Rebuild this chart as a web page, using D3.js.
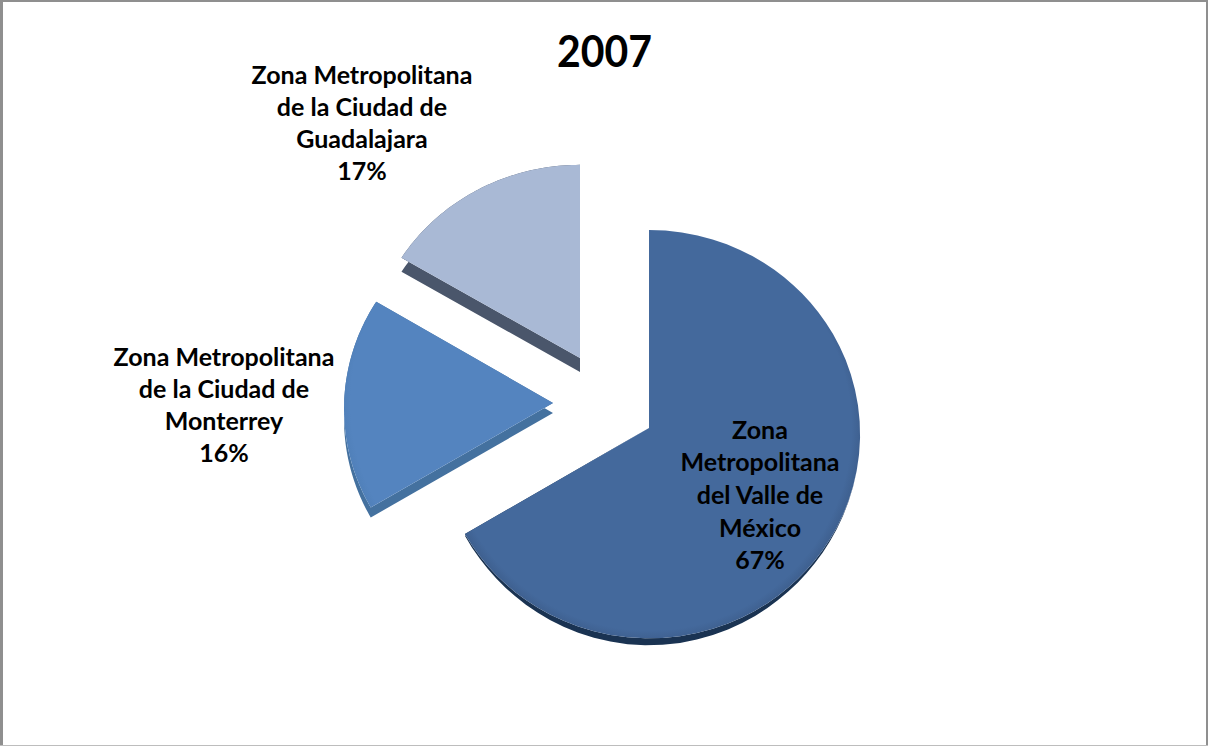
<!DOCTYPE html>
<html lang="es">
<head>
<meta charset="utf-8">
<script src="https://cdn.jsdelivr.net/npm/d3@7/dist/d3.min.js"></script>
<style>
html,body{margin:0;padding:0;background:#fff}
svg{display:block}
text{font-family:Lato,"Open Sans",sans-serif;font-weight:700;fill:#000;text-anchor:middle}
</style>
</head>
<body>
<svg id="chart" width="1208" height="746"></svg>
<script>
// Chart content
const chartTitle = "2007";
const zones = ["Zona Metropolitana del Valle de México", "Zona Metropolitana de la Ciudad de Monterrey", "Zona Metropolitana de la Ciudad de Guadalajara"];
const shares = [67, 16, 17];
const zoneLines = [
  ["Zona", "Metropolitana", "del Valle de", "México"],
  ["Zona Metropolitana", "de la Ciudad de", "Monterrey"],
  ["Zona Metropolitana", "de la Ciudad de", "Guadalajara"]
];

// Slice appearance and placement
const faceColors = ["#44699c", "#5484bf", "#a9b9d5"];
const rimColors = ["#3f6191", "#5080b9", "#a3b3cf"];
const sideColors = ["#1a3352", "#44719f", "#4a566b"];
const apexes = [[649, 428], [553, 403], [580, 358]];
const depths = [6.5, 10, 14];
const taperedSide = [true, false, false];
const widthScales = [1, 0.99, 1];
const heightScales = [1, 0.985, 0.975];
const labelCenters = [[760, 430], [224, 357], [362, 75]];
const labelLeading = [32.6, 32, 32];

const radius = 211;
const flatten = 0.967;   // vertical squash of the tilted disc
const tilt = 0.03;       // near edge of the disc reads a little larger
const warp = 2.2 * Math.PI / 180; // oblique view pulls the side angles toward the horizontal

const svg = d3.select("#chart");
const defs = svg.append("defs");

// Frame around the chart area
const frame = svg.append("g");
frame.append("rect").attr("x", 0).attr("y", 0).attr("width", 1208).attr("height", 746).attr("fill", "#fff");
frame.append("line").attr("x1", 0).attr("x2", 1208).attr("y1", 1).attr("y2", 1).attr("stroke", "#8f8f8f").attr("stroke-width", 2);
frame.append("line").attr("x1", 1.5).attr("x2", 1.5).attr("y1", 0).attr("y2", 746).attr("stroke", "#8f8f8f").attr("stroke-width", 3);
frame.append("line").attr("x1", 1207).attr("x2", 1207).attr("y1", 0).attr("y2", 746).attr("stroke", "#8f8f8f").attr("stroke-width", 2);
frame.append("line").attr("x1", 0).attr("x2", 1208).attr("y1", 745.5).attr("y2", 745.5).attr("stroke", "#bdbdbd").attr("stroke-width", 1);

const arcs = d3.pie().sort(null).value(d => d).startAngle(0).endAngle(2 * Math.PI)(shares);

// Polar position on the tilted disc, relative to the slice apex
function project(angle, i) {
  const t = angle + warp * Math.sin(4 * angle);
  const sx = Math.sin(t), cy = -Math.cos(t);
  const w = 1 - tilt * cy;
  return [radius * widthScales[i] * sx / w, flatten * radius * heightScales[i] * cy / w];
}

// Outline of one wedge: apex, then points along the curved edge
function outline(a, i) {
  const steps = d3.range(0, 61).map(k => a.startAngle + (a.endAngle - a.startAngle) * k / 60);
  return [[0, 0], ...steps.map(t => project(t, i))];
}

// Depth of the side below a point: the big slice shows its side only along the near edge
function sideDepth(q, i) {
  if (!taperedSide[i]) return depths[i];
  const c = Math.max(0, q[1] / (flatten * radius));
  return depths[i] * c * c;
}

const toPath = d3.line().curve(d3.curveLinear);
const slices = svg.selectAll("g.slice").data(arcs).join("g")
  .attr("class", "slice")
  .attr("transform", (d, i) => `translate(${apexes[i][0]},${apexes[i][1]})`);

// Extruded side: the wedge outline swept downward by its depth
slices.append("path")
  .attr("fill", (d, i) => sideColors[i])
  .attr("d", (d, i) => {
    const pts = outline(d, i);
    let p = "";
    pts.forEach((q, k) => {
      const n = pts[(k + 1) % pts.length];
      p += toPath([q, n, [n[0], n[1] + sideDepth(n, i)], [q[0], q[1] + sideDepth(q, i)]]) + "Z";
    });
    return p;
  });

// Top face, very slightly darkened at the rim
faceColors.forEach((c, i) => {
  const g = defs.append("radialGradient").attr("id", "face" + i)
    .attr("gradientUnits", "userSpaceOnUse").attr("cx", 0).attr("cy", 0).attr("r", radius);
  g.append("stop").attr("offset", 0).attr("stop-color", c);
  g.append("stop").attr("offset", 0.96).attr("stop-color", c);
  g.append("stop").attr("offset", 1).attr("stop-color", rimColors[i]);
});
slices.append("path")
  .attr("fill", (d, i) => `url(#face${i})`)
  .attr("d", (d, i) => toPath(outline(d, i)) + "Z");

// Title and data labels
svg.append("text").attr("x", 604.5).attr("y", 67).attr("font-size", 44)
  .attr("textLength", 95).attr("lengthAdjust", "spacingAndGlyphs").text(chartTitle);

svg.selectAll("g.label").data(arcs).join("g")
  .attr("class", "label")
  .each(function(d, i) {
    const g = d3.select(this);
    const lines = [...zoneLines[i], d.value + "%"];
    lines.forEach((t, k) => {
      g.append("text")
        .attr("x", labelCenters[i][0])
        .attr("y", labelCenters[i][1] + k * labelLeading[i])
        .attr("dy", "0.35em")
        .attr("font-size", 25)
        .text(t);
    });
  });
</script>
</body>
</html>
